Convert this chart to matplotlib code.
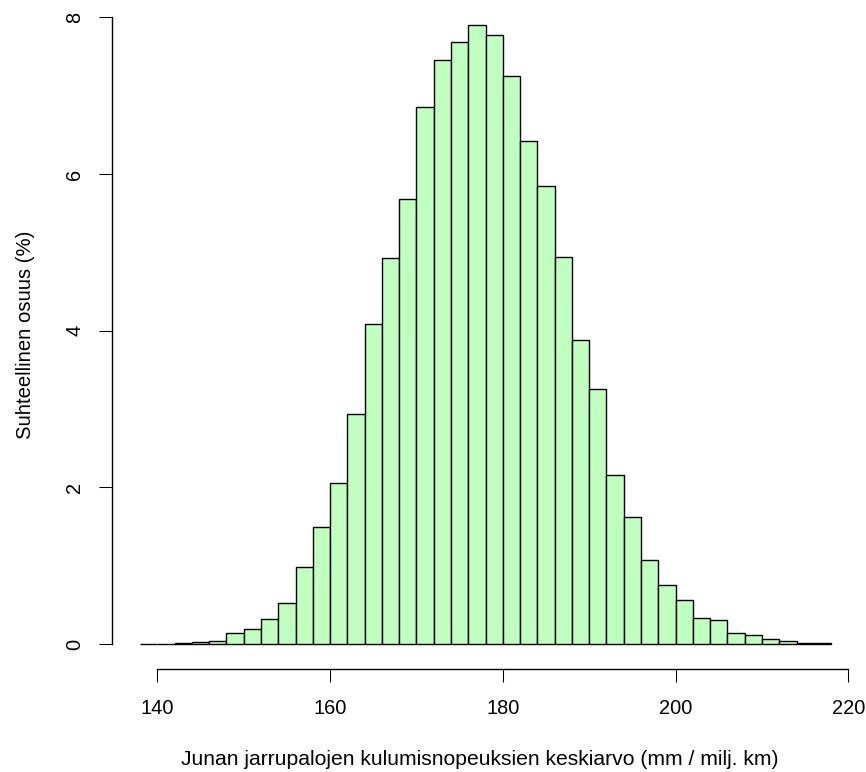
import matplotlib
matplotlib.use("Agg")
import matplotlib.pyplot as plt
import numpy as np

plt.rcParams.update({"font.family": ["Liberation Sans", "DejaVu Sans"], "font.size": 14.4})

# histogram of mean brake pad wear rates, bin width 2 mm / million km
bin_edges = np.arange(138, 220, 2)
share_pct = [0.003, 0.003, 0.015, 0.025, 0.04, 0.145, 0.19, 0.32, 0.52, 0.98,
             1.49, 2.05, 2.94, 4.09, 4.93, 5.68, 6.85, 7.46, 7.68, 7.905,
             7.77, 7.25, 6.42, 5.85, 4.94, 3.88, 3.26, 2.16, 1.62, 1.07,
             0.755, 0.56, 0.33, 0.31, 0.14, 0.115, 0.06, 0.04, 0.01, 0.012]
x_ticks = [140, 160, 180, 200, 220]
y_ticks = [0, 2, 4, 6, 8]

W, H = 866, 772
fig = plt.figure(figsize=(W / 100, H / 100), dpi=100)
# plot region like R: axes box = data range + 4 %
left, right, top, bottom = 112.4, 858.7, 0.0, 669.0
ax = fig.add_axes([left / W, 1 - bottom / H, (right - left) / W, (bottom - top) / H])

ax.bar(bin_edges[:-1], share_pct, width=2, align="edge",
       color="#C1FFC1", edgecolor="black", linewidth=1.0)

ax.set_xlim(134.8, 221.2)
ax.set_ylim(-0.319, 8.221)
ax.set_xticks(x_ticks)
ax.set_yticks(y_ticks)

for s in ("top", "right"):
    ax.spines[s].set_visible(False)
ax.spines["left"].set_bounds(0, 8)
ax.spines["bottom"].set_bounds(140, 220)
for s in ("left", "bottom"):
    ax.spines[s].set_linewidth(1.0)

ax.tick_params(axis="both", length=9.4, width=0.75, colors="black")
ax.tick_params(axis="x", pad=12)
ax.tick_params(axis="y", pad=11, labelrotation=90)
plt.setp(ax.get_yticklabels(), va="center")

ax.set_xlabel("Junan jarrupalojen kulumisnopeuksien keskiarvo (mm / milj. km)",
              va="center", fontsize=15.2)
ax.xaxis.set_label_coords(0.492, -0.136)
ax.set_ylabel("Suhteellinen osuus (%)", va="center", fontsize=14.6)
ax.yaxis.set_label_coords(-0.116, 0.5)

fig.savefig("out.png", dpi=100)
